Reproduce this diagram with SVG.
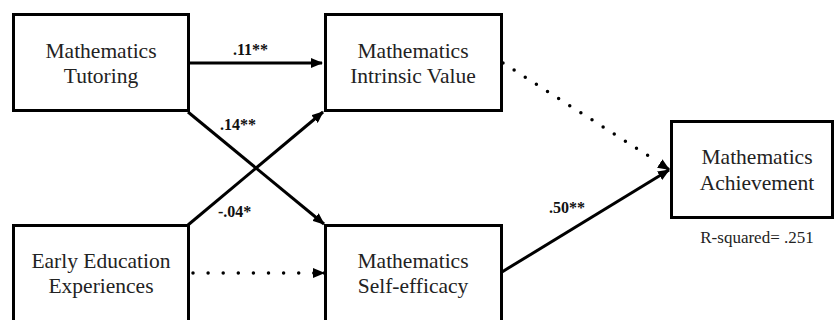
<svg xmlns="http://www.w3.org/2000/svg" width="834" height="320" viewBox="0 0 834 320">
<defs>
<style>
.box{fill:#fff;stroke:#000;stroke-width:3}
.nt{font-family:'Liberation Serif','Times New Roman',serif;font-size:21.5px;fill:#222;text-anchor:middle}
.lb{font-family:'Liberation Serif','Times New Roman',serif;font-size:16px;font-weight:bold;fill:#111}
.rs{font-family:'Liberation Serif','Times New Roman',serif;font-size:17px;fill:#222;text-anchor:middle}
.solid{stroke:#000;stroke-width:3;fill:none}
.dot{stroke:#000;stroke-width:3.5;fill:none;stroke-linecap:round}
</style>
<marker id="ah" markerUnits="userSpaceOnUse" markerWidth="12" markerHeight="10" refX="11" refY="5" orient="auto">
<path d="M0,0 L12,5 L0,10 Z" fill="#000"/>
</marker>
</defs>
<rect width="834" height="320" fill="#fff"/>
<g id="connectors">
<line class="solid" x1="189" y1="63" x2="322" y2="63" marker-end="url(#ah)"/>
<line class="solid" x1="188" y1="112" x2="324" y2="224" marker-end="url(#ah)"/>
<line class="solid" x1="188" y1="225" x2="323" y2="112" marker-end="url(#ah)"/>
<line class="dot" x1="193" y1="273" x2="314" y2="273" stroke-dasharray="0 15.1"/>
<line class="solid" x1="323" y1="273" x2="324" y2="273" marker-end="url(#ah)"/>
<line class="dot" x1="503" y1="63" x2="658" y2="162" stroke-dasharray="0 13.2"/>
<line class="solid" x1="662" y1="165" x2="669" y2="169.5" marker-end="url(#ah)"/>
<line class="solid" x1="502" y1="272" x2="669" y2="170" marker-end="url(#ah)"/>
<text class="lb" x="233" y="55">.11**</text>
<text class="lb" x="220" y="130">.14**</text>
<text class="lb" x="218" y="217">-.04*</text>
<text class="lb" x="549" y="213">.50**</text>
</g>
<g id="n-tutoring">
<rect class="box" x="13.5" y="14.5" width="175" height="96"/>
<text class="nt" x="101" y="58">Mathematics</text>
<text class="nt" x="101" y="83">Tutoring</text>
</g>
<g id="n-intrinsic">
<rect class="box" x="325.5" y="14.5" width="176" height="96"/>
<text class="nt" x="413" y="58">Mathematics</text>
<text class="nt" x="413" y="83">Intrinsic Value</text>
</g>
<g id="n-early">
<rect class="box" x="13.5" y="225.5" width="175" height="97"/>
<text class="nt" x="101" y="268">Early Education</text>
<text class="nt" x="101" y="293">Experiences</text>
</g>
<g id="n-selfefficacy">
<rect class="box" x="325.5" y="225.5" width="176" height="97"/>
<text class="nt" x="413" y="268">Mathematics</text>
<text class="nt" x="413" y="293">Self-efficacy</text>
</g>
<g id="n-achievement">
<rect class="box" x="671.5" y="121.5" width="161" height="96"/>
<text class="nt" x="757" y="164">Mathematics</text>
<text class="nt" x="757" y="190">Achievement</text>
<text class="rs" x="757" y="243">R-squared= .251</text>
</g>
</svg>
